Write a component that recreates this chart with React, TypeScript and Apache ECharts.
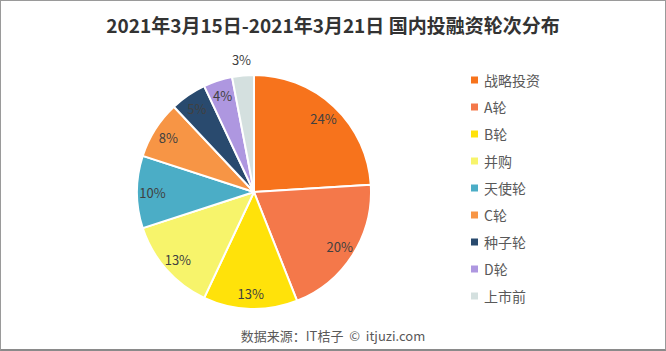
import React, { useEffect, useRef } from "react";
import * as echarts from "echarts";

const categories = ["战略投资", "A轮", "B轮", "并购", "天使轮", "C轮", "种子轮", "D轮", "上市前"];
const values = [24, 20, 13, 13, 10, 8, 5, 4, 3];
const colors = ["#F7731C", "#F4784A", "#FFE20A", "#F7F46B", "#4BADC6", "#F79545", "#294A6E", "#AE97E0", "#D4E0DF"];
const outsideLabels = ["上市前"];
const titleText = "2021年3月15日-2021年3月21日 国内投融资轮次分布";
const sourceText = "数据来源：IT桔子  ©  itjuzi.com";

export default function App() {
  const ref = useRef<HTMLDivElement>(null);
  useEffect(() => {
    document.body.style.margin = "0";
    const chart = echarts.init(ref.current!, null, { renderer: "svg" });
    const font = "'Noto Sans CJK SC', 'Microsoft YaHei', sans-serif";
    const data = categories.map((n, i) => ({ name: n, value: values[i] }));
    const labelStyle = {
      show: true,
      position: "inside" as const,
      fontFamily: font,
      fontSize: 13,
      color: "#404040",
    };
    chart.setOption({
      animation: false,
      color: colors,
      title: {
        text: titleText,
        left: "center",
        top: 9,
        textStyle: { fontFamily: font, fontSize: 19, fontWeight: "bold", color: "#333333" },
      },
      legend: {
        orient: "vertical",
        left: 463,
        top: 67,
        icon: "rect",
        itemWidth: 9,
        itemHeight: 9,
        itemGap: 13,
        data: categories,
        textStyle: { fontFamily: font, fontSize: 14, color: "#595959", lineHeight: 14 },
      },
      graphic: [
        {
          type: "text",
          left: "center",
          top: 328,
          style: { text: sourceText, font: `13px ${font}`, fill: "#595959" },
        },
      ],
      series: [
        {
          type: "pie",
          center: [253, 191],
          radius: [0, 117],
          startAngle: 90,
          clockwise: true,
          data,
          label: { show: false },
          labelLine: { show: false },
          itemStyle: { borderColor: "#ffffff", borderWidth: 2 },
          emphasis: { disabled: true },
        },
        {
          type: "pie",
          center: [253, 191],
          radius: [80, 117],
          startAngle: 90,
          clockwise: true,
          silent: true,
          data,
          itemStyle: { color: "rgba(0,0,0,0)" },
          label: {
            ...labelStyle,
            formatter: (p: any) => (outsideLabels.includes(p.name) ? "" : `${p.percent.toFixed(0)}%`),
          },
          labelLine: { show: false },
          emphasis: { disabled: true },
        },
        {
          type: "pie",
          center: [253, 191],
          radius: [123, 137],
          startAngle: 90,
          clockwise: true,
          silent: true,
          data,
          itemStyle: { color: "rgba(0,0,0,0)" },
          label: {
            ...labelStyle,
            formatter: (p: any) => (outsideLabels.includes(p.name) ? `${p.percent.toFixed(0)}%` : ""),
          },
          labelLine: { show: false },
          emphasis: { disabled: true },
        },
      ],
    });
    return () => chart.dispose();
  }, []);
  return (
    <div
      style={{
        width: 666,
        height: 351,
        boxSizing: "border-box",
        borderTop: "1px solid #9a9a9a",
        borderLeft: "1px solid #9a9a9a",
        borderRight: "1px solid #9a9a9a",
        borderBottom: "2px solid #8a8a8a",
        background: "#ffffff",
      }}
    >
      <div ref={ref} style={{ width: 664, height: 348 }} />
    </div>
  );
}
